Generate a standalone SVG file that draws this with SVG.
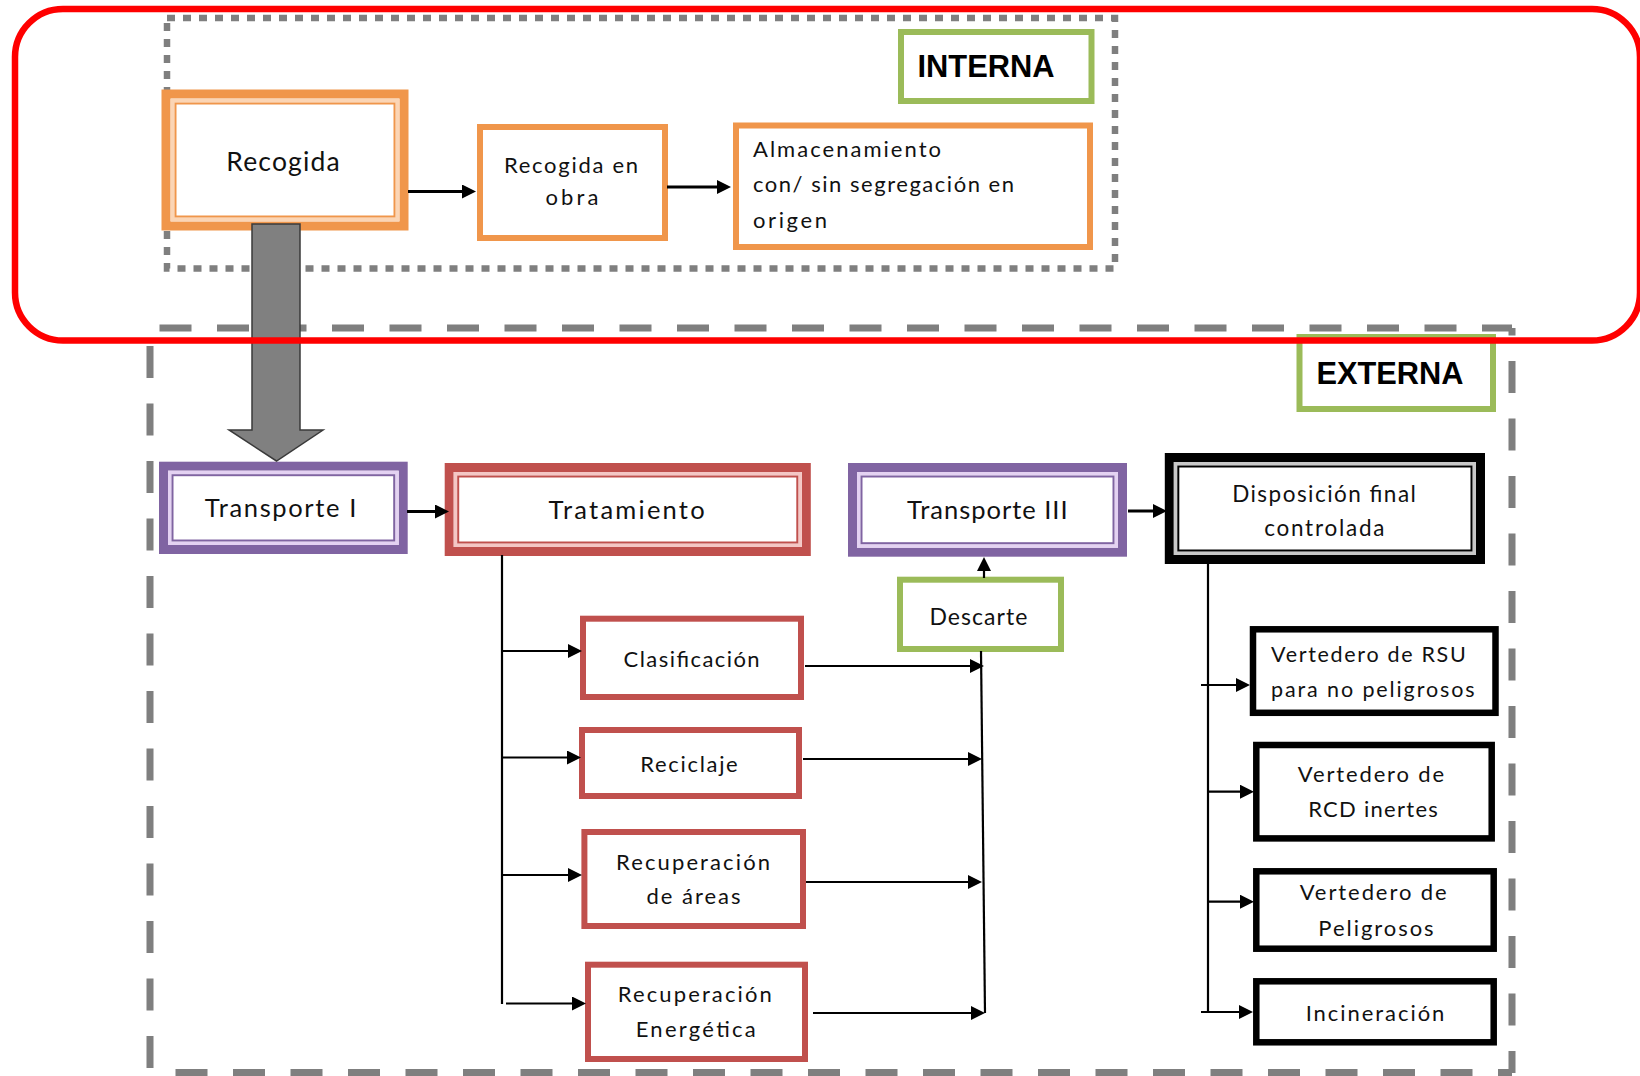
<svg xmlns="http://www.w3.org/2000/svg" width="1640" height="1076" viewBox="0 0 1640 1076">
<style>
  text { font-family: Lato, "Liberation Sans", sans-serif; fill: #111; }
  .c { text-anchor: middle; }
  .big { font-size: 25.5px; }
  .sm { font-size: 22px; }
  .lbl { font-family: "Liberation Sans", Arial, sans-serif; font-weight: bold; font-size: 30.5px; text-anchor: middle; fill: #000; }
  .dot { fill: none; stroke: #7f7f7f; stroke-width: 6.5; stroke-dasharray: 8 8; }
  .dash { fill: none; stroke: #7f7f7f; stroke-width: 7; stroke-dasharray: 32 25.5; }
  .or { fill: #fff; stroke: #f0964b; stroke-width: 6; }
  .rd { fill: #fff; stroke: #c0504d; stroke-width: 6; }
  .gr { fill: #fff; stroke: #9bbb59; stroke-width: 6; }
  .bk { fill: #fff; stroke: #000; stroke-width: 6.5; }
  .o1 { fill: #fff; stroke-width: 9; }
  .o2 { fill: none; stroke-width: 3.5; }
  .o3 { fill: #fff; stroke-width: 2; }
  .conn path { fill: none; stroke: #000; }
  .t { stroke-width: 3; }
  .n { stroke-width: 2.2; }
</style>
<defs>
  <marker id="ah" markerUnits="userSpaceOnUse" markerWidth="14" markerHeight="14" refX="2" refY="7" orient="auto">
    <path d="M0,0 L14,7 L0,14 z" fill="#000"/>
  </marker>
</defs>

<rect width="1640" height="1076" fill="#fff"/>

<!-- zones -->
<g id="zona-interna">
  <rect class="dot" x="167" y="18" width="948" height="250.5"/>
</g>
<g id="zona-externa">
  <line class="dash" x1="150" y1="328" x2="1512" y2="328" stroke-dashoffset="48"/>
  <line class="dash" x1="150" y1="328" x2="150" y2="1073" stroke-dashoffset="39.5"/>
  <line class="dash" x1="1512" y1="328" x2="1512" y2="1073" stroke-dashoffset="24.5"/>
  <line class="dash" x1="150" y1="1072.5" x2="1512" y2="1072.5" stroke-dashoffset="32"/>
</g>

<!-- labels -->
<g id="interna">
  <rect class="gr" x="901" y="32" width="190.5" height="69"/>
  <text class="lbl" x="986" y="77" textLength="137" lengthAdjust="spacingAndGlyphs">INTERNA</text>
</g>
<g id="externa">
  <rect class="gr" x="1299.5" y="337" width="193.5" height="72"/>
  <text class="lbl" x="1390" y="383.5" textLength="147" lengthAdjust="spacingAndGlyphs">EXTERNA</text>
</g>

<!-- nodes -->
<g id="recogida">
  <rect class="o1" x="166" y="94" width="238" height="132" stroke="#f0964b"/>
  <rect class="o2" x="172.75" y="100.75" width="224.5" height="118.5" stroke="#fbd5b5"/>
  <rect class="o3" x="175.5" y="103.5" width="219" height="113" stroke="#f0964b"/>
  <text class="c" x="283" y="171" font-size="26.5" textLength="113.5" lengthAdjust="spacing">Recogida</text>
</g>
<g id="recogida-obra">
  <rect class="or" x="480" y="127" width="185" height="111"/>
  <text class="c sm" x="571" y="173" font-size="22.5" textLength="134" lengthAdjust="spacing">Recogida en</text>
  <text class="c sm" x="572" y="205" textLength="53" lengthAdjust="spacing">obra</text>
</g>
<g id="almacenamiento">
  <rect class="or" x="736" y="125.5" width="354" height="121.5"/>
  <text class="sm" x="753" y="157.3" textLength="188" lengthAdjust="spacing">Almacenamiento</text>
  <text class="sm" x="753" y="191.7" textLength="261" lengthAdjust="spacing">con/ sin segregación en</text>
  <text class="sm" x="753" y="228" textLength="74" lengthAdjust="spacing">origen</text>
</g>

<g id="transporte1">
  <rect class="o1" x="163.5" y="466.2" width="239.7" height="83.3" stroke="#8064a2"/>
  <rect class="o2" x="169.75" y="472.45" width="227.2" height="70.8" stroke="#e4d2f2"/>
  <rect class="o3" x="172.5" y="475.2" width="221.7" height="65.3" stroke="#8064a2"/>
  <text class="c big" x="280.6" y="516.7" textLength="151.5" lengthAdjust="spacing">Transporte I</text>
</g>
<g id="tratamiento">
  <rect class="o1" x="449.2" y="467.5" width="357.1" height="84" stroke="#c0504d"/>
  <rect class="o2" x="455.45" y="473.75" width="344.6" height="71.5" stroke="#f4c7c5"/>
  <rect class="o3" x="458.2" y="476.5" width="339.1" height="66" stroke="#c0504d"/>
  <text class="c big" x="626.6" y="519" textLength="156" lengthAdjust="spacing">Tratamiento</text>
</g>
<g id="transporte3">
  <rect class="o1" x="852.5" y="467.5" width="270" height="84.7" stroke="#8064a2"/>
  <rect class="o2" x="858.75" y="473.75" width="257.5" height="72.2" stroke="#e4d2f2"/>
  <rect class="o3" x="861.5" y="476.5" width="252" height="66.7" stroke="#8064a2"/>
  <text class="c big" x="987.3" y="519.3" textLength="160.5" lengthAdjust="spacing">Transporte III</text>
</g>
<g id="disposicion">
  <rect class="o1" x="1169.3" y="457.5" width="311.2" height="102" stroke="#000"/>
  <rect class="o2" x="1175.55" y="463.75" width="298.7" height="89.5" stroke="#c8c8c8"/>
  <rect class="o3" x="1178.3" y="466.5" width="293.2" height="84" stroke="#000"/>
  <text class="c" x="1324" y="502.3" font-size="22.5" textLength="183.7" lengthAdjust="spacing">Disposición final</text>
  <text class="c" x="1324.3" y="535.7" font-size="22.5" textLength="120.3" lengthAdjust="spacing">controlada</text>
</g>
<g id="descarte">
  <rect class="gr" x="900" y="579.7" width="161" height="69.3"/>
  <text class="c" x="978.4" y="625" font-size="23" textLength="98" lengthAdjust="spacing">Descarte</text>
</g>

<g id="clasificacion">
  <rect class="rd" x="583" y="618.7" width="218" height="78.3"/>
  <text class="c sm" x="691.6" y="666.7" textLength="136" lengthAdjust="spacing">Clasificación</text>
</g>
<g id="reciclaje">
  <rect class="rd" x="582" y="730" width="217" height="66"/>
  <text class="c sm" x="689" y="771.7" textLength="97.4" lengthAdjust="spacing">Reciclaje</text>
</g>
<g id="recuperacion-areas">
  <rect class="rd" x="584.4" y="832" width="218.6" height="94"/>
  <text class="c sm" x="693" y="870" textLength="154" lengthAdjust="spacing">Recuperación</text>
  <text class="c sm" x="693.5" y="904" textLength="94" lengthAdjust="spacing">de áreas</text>
</g>
<g id="recuperacion-energetica">
  <rect class="rd" x="588" y="964.7" width="217" height="94.3"/>
  <text class="c sm" x="694.8" y="1002.3" textLength="154" lengthAdjust="spacing">Recuperación</text>
  <text class="c sm" x="695.7" y="1037.3" textLength="120" lengthAdjust="spacing">Energética</text>
</g>

<g id="vertedero-rsu">
  <rect class="bk" x="1253" y="629.3" width="242.5" height="83.5"/>
  <text class="c" x="1368.4" y="661.7" font-size="21.5" textLength="194.8" lengthAdjust="spacing">Vertedero de RSU</text>
  <text class="c" x="1372.8" y="696.7" font-size="21.5" textLength="203.7" lengthAdjust="spacing">para no peligrosos</text>
</g>
<g id="vertedero-rcd">
  <rect class="bk" x="1256.3" y="745" width="235.4" height="93.4"/>
  <text class="c sm" x="1371" y="781.7" textLength="146.3" lengthAdjust="spacing">Vertedero de</text>
  <text class="c sm" x="1373" y="817.3" textLength="129.7" lengthAdjust="spacing">RCD inertes</text>
</g>
<g id="vertedero-peligrosos">
  <rect class="bk" x="1256.3" y="871.3" width="237.4" height="77.4"/>
  <text class="c sm" x="1373.2" y="900" textLength="147" lengthAdjust="spacing">Vertedero de</text>
  <text class="c sm" x="1376" y="935.5" textLength="115.3" lengthAdjust="spacing">Peligrosos</text>
</g>
<g id="incineracion">
  <rect class="bk" x="1256.3" y="981.3" width="237.4" height="61"/>
  <text class="c sm" x="1375" y="1020.7" textLength="138.7" lengthAdjust="spacing">Incineración</text>
</g>

<!-- connectors -->
<g id="connectors" class="conn">
  <path class="t" d="M408,191.5 H464" marker-end="url(#ah)"/>
  <path class="t" d="M667,187 H719" marker-end="url(#ah)"/>
  <path class="t" d="M407,511.5 H437" marker-end="url(#ah)"/>
  <path class="n" d="M502,555 V1004"/>
  <path class="n" d="M502,651 H570" marker-end="url(#ah)"/>
  <path class="n" d="M502,757.5 H569" marker-end="url(#ah)"/>
  <path class="n" d="M502,875 H570" marker-end="url(#ah)"/>
  <path class="n" d="M506,1003.5 H574" marker-end="url(#ah)"/>
  <path class="n" d="M805,666 H972" marker-end="url(#ah)"/>
  <path class="n" d="M803,759 H970" marker-end="url(#ah)"/>
  <path class="n" d="M806,882 H970" marker-end="url(#ah)"/>
  <path class="n" d="M813,1013 H973" marker-end="url(#ah)"/>
  <path class="n" d="M981,651 L985,1013"/>
  <path class="n" d="M984,578 V569" marker-end="url(#ah)"/>
  <path class="t" d="M1128,511 H1155" marker-end="url(#ah)"/>
  <path class="n" d="M1208,564 V1012"/>
  <path class="n" d="M1201,685 H1238" marker-end="url(#ah)"/>
  <path class="n" d="M1208,791.7 H1242" marker-end="url(#ah)"/>
  <path class="n" d="M1208,901.7 H1242" marker-end="url(#ah)"/>
  <path class="n" d="M1201,1012 H1241" marker-end="url(#ah)"/>
  <polygon id="flecha-transporte" points="252,224 300,224 300,430 323,430 276.5,461 229,430 252,430" fill="#808080" stroke="#3a3a3a" stroke-width="1.5"/>
</g>

<!-- highlight -->
<rect x="15" y="9" width="1625" height="331.5" rx="48" ry="48" fill="none" stroke="#ff0000" stroke-width="6.5"/>
</svg>
